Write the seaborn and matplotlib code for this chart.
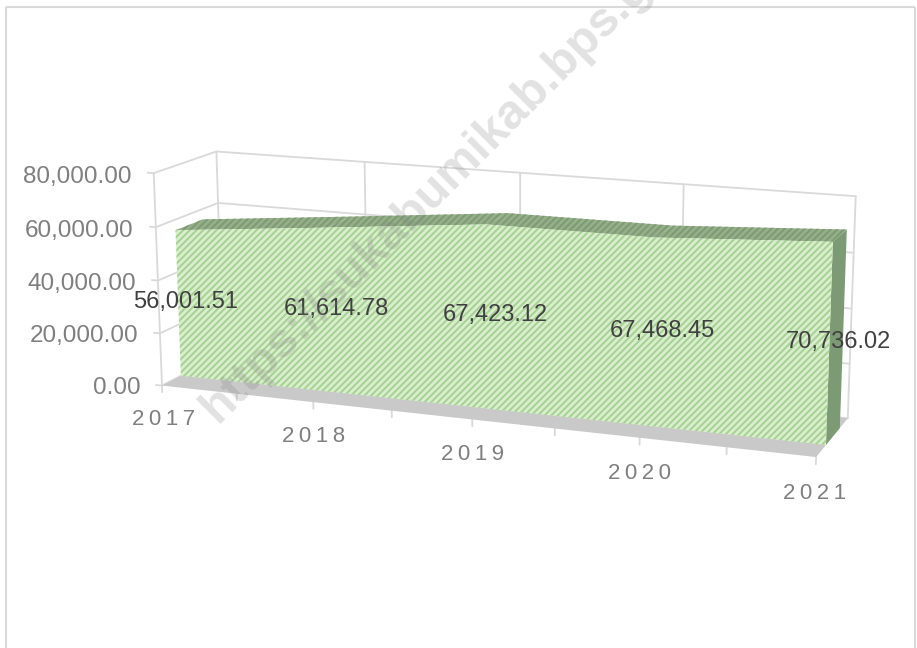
import numpy as np
import matplotlib
matplotlib.use("Agg")
import matplotlib.pyplot as plt
from matplotlib.patches import Rectangle
from mpl_toolkits.mplot3d.art3d import Poly3DCollection
import seaborn as sns

years = ["2017", "2018", "2019", "2020", "2021"]
values = [56001.51, 61614.78, 67423.12, 67468.45, 70736.02]
value_labels = ["56,001.51", "61,614.78", "67,423.12", "67,468.45", "70,736.02"]
z_ticks = [0, 20000, 40000, 60000, 80000]
z_labels = ["0.00", "20,000.00", "40,000.00", "60,000.00", "80,000.00"]

W, H = 917, 648
ZMAX = 80000
D1, D2 = 0.30, 0.74  # depth of the area inside the box

sns.set_theme(style="white", font="Liberation Sans")
plt.rcParams["hatch.linewidth"] = 1.4

fig = plt.figure(figsize=(W / 100, H / 100), dpi=100)
# axes3d is always square, so make it a square that overflows the figure
ax = fig.add_axes([0, -(W - H) / 2 / H, 1, W / H], projection="3d", computed_zorder=False)
ax.set_axis_off()

# camera fitted on the corners of the excel box: (cat, depth, z/zmax) -> pixel
cal = [
    (0, 0, 0, 163, 385), (1, 0, 0, 313, 402), (4, 0, 0, 816, 458),
    (4, 1, 0, 848, 417), (0, 1, 0, 222, 355), (0, 0, 1, 153, 173),
    (0, 1, 1, 217, 151), (1, 1, 1, 365, 162), (3, 1, 1, 683, 185),
    (4, 1, 1, 856, 196),
]
A, b = [], []
for x, y, z, u, v in cal:
    A.append([x, y, z, 1, 0, 0, 0, 0, -u * x, -u * y, -u * z])
    A.append([0, 0, 0, 0, x, y, z, 1, -v * x, -v * y, -v * z])
    b += [u, v]
p = np.linalg.lstsq(np.array(A, float), np.array(b, float), rcond=None)[0]
row_u = p[:4] * [1, 1, 1 / ZMAX, 1]
row_v = p[4:8] * [1, 1, 1 / ZMAX, 1]
row_w = np.append(p[8:11], 1.0) * [1, 1, 1 / ZMAX, 1]

x0, x1 = ax.viewLim.intervalx
y0, y1 = ax.viewLim.intervaly
top = H + (W - H) / 2
M = np.array([
    (x1 - x0) / W * row_u + x0 * row_w,
    -(y1 - y0) / W * row_v + (y0 + top * (y1 - y0) / W) * row_w,
    [0, -1, 0, -1],  # mplot3d drops points with positive depth
    row_w,
])
ax.get_proj = lambda: M

# walls
grid = "#d9d9d9"
for z in z_ticks:
    ax.plot([-0.04, 0, 0, 4], [0, 0, 1, 1], [z, z, z, z], color=grid, lw=1.3, zorder=1)
for i in range(len(years)):
    ax.plot([i, i], [1, 1], [0, ZMAX], color=grid, lw=1.3, zorder=1)
ax.plot([0, 0], [0, 0], [0, ZMAX], color=grid, lw=1.3, zorder=1)
for t in np.arange(0, 4.5, 0.5):
    ax.plot([t, t], [0, 0], [0, -2500], color=grid, lw=1.3, zorder=1)

# floor
floor = [[(0, 0, 0), (4, 0, 0), (4, 1, 0), (0, 1, 0)]]
ax.add_collection3d(Poly3DCollection(floor, facecolors="#c9c9c9", edgecolors="none", zorder=2))

# area: top, side, front
xs = list(range(len(values)))
tops = []
for i in xs[:-1]:
    tops.append([(i, D1, values[i]), (i + 1, D1, values[i + 1]),
                 (i + 1, D2, values[i + 1]), (i, D2, values[i])])
ax.add_collection3d(Poly3DCollection(tops, facecolors="#94af89", edgecolors="#7d9a73",
                                     linewidths=0, hatch="/////", zorder=3))
side = [[(4, D1, 0), (4, D2, 0), (4, D2, values[-1]), (4, D1, values[-1])]]
ax.add_collection3d(Poly3DCollection(side, facecolors="#7c9a73", edgecolors="none", zorder=3))
front = [[(0, D1, 0)] + [(i, D1, values[i]) for i in xs] + [(4, D1, 0)]]
ax.add_collection3d(Poly3DCollection(front, facecolors="#d8efcb", edgecolors="#a8cf95",
                                     linewidths=0, hatch="/////", zorder=4))

# labels
for z, s in zip(z_ticks, z_labels):
    ax.text(-0.15, 0, z - 2000, s, ha="right", va="center", fontsize=17.5, color="#7f7f7f", zorder=6)
for i, s in enumerate(years):
    ax.text(i, 0, -13000, "\u2009".join(s), ha="center", va="center", fontsize=16,
            color="#7f7f7f", zorder=6)
for i, s in enumerate(value_labels):
    ax.text(i + 0.05, D1, values[i] / 2 + 1000, s, ha="center", va="center", fontsize=17,
            color="#404040", zorder=7)

# chart border, open at the bottom
for xy, w, h in [((6, 0), 0, H - 7), ((6, H - 7), W - 8, 0), ((915, 0), 0, H - 7)]:
    fig.add_artist(Rectangle((xy[0] / W, xy[1] / H), w / W, h / H, transform=fig.transFigure,
                             fill=False, edgecolor="#d9d9d9", lw=1.5))

# watermark
fig.text(218 / W, 1 - 424 / H, "https://sukabumikab.bps.go.id", rotation=45, rotation_mode="anchor",
         ha="left", va="baseline", fontsize=35, fontweight="bold", color="#808080", alpha=0.23)

fig.savefig("out.png", dpi=100)
